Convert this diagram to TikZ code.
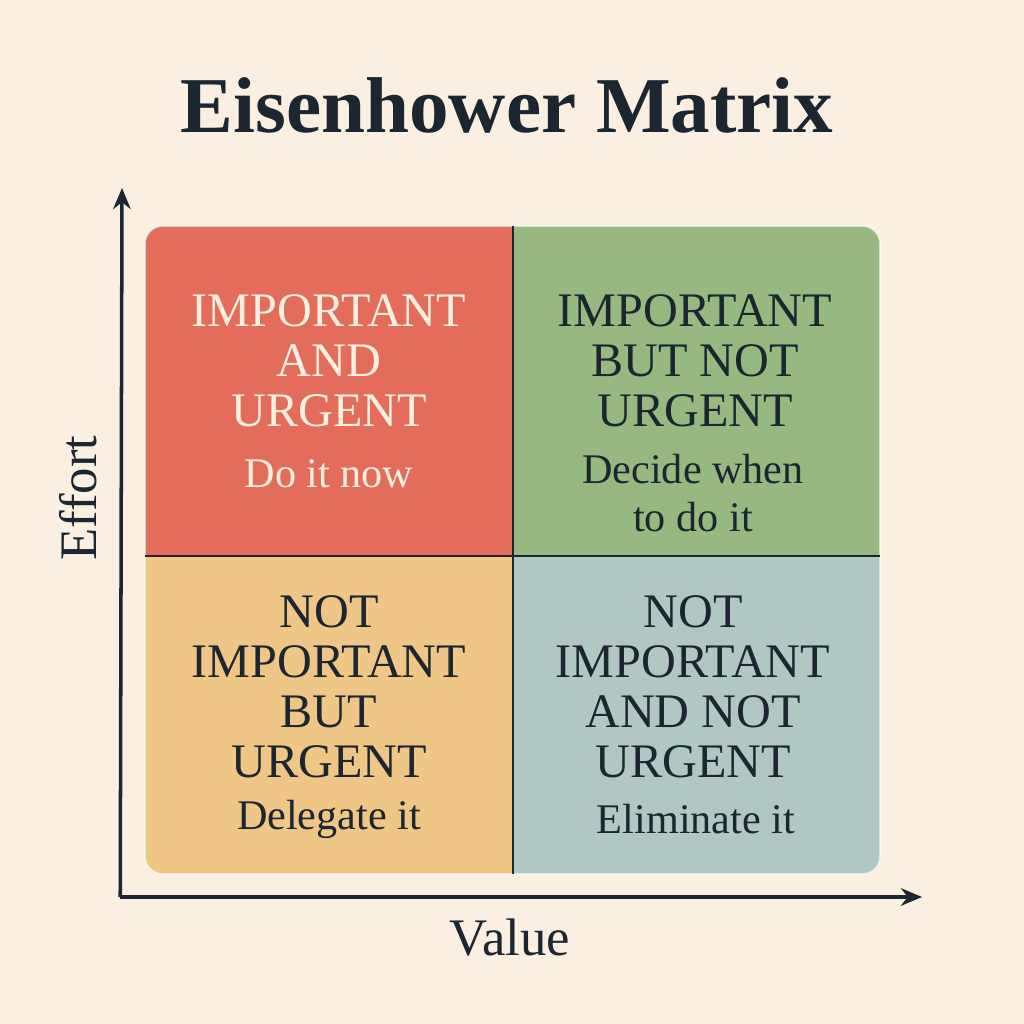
\documentclass[tikz,border=0pt]{standalone}
\usepackage{fontspec}
\setmainfont{Liberation Serif}
\usepackage{tikz}
\usetikzlibrary{arrows.meta, positioning}

\definecolor{paper}{HTML}{FBEFE2}
\definecolor{ink}{HTML}{1C2630}
\definecolor{qred}{HTML}{E36C5B}
\definecolor{qgreen}{HTML}{98B882}
\definecolor{qyellow}{HTML}{F0C686}
\definecolor{qblue}{HTML}{B0C7C4}

\begin{document}
\begin{tikzpicture}[x=0.01cm, y=-0.01cm, >={Stealth[length=6pt, width=5pt]},
    head/.style={align=center, text=ink, font=\fontsize{13.7}{14.2}\selectfont},
    act/.style={align=center, text=ink, font=\fontsize{12}{13.4}\selectfont},
    axislabel/.style={text=ink, font=\fontsize{15}{16}\selectfont}]
                % page
                \fill[paper] (0,0) rectangle (1024,1024);
                \useasboundingbox (0,0) rectangle (1024,1024);
                \node[text=ink, font=\fontsize{22.5}{24}\selectfont\bfseries] (title) at (507,105) {Eisenhower Matrix};
                % quadrants
                \begin{scope}
                    \clip[rounded corners=5pt] (145,226) rectangle (880,874);
                    \fill[qred] (145,226) rectangle (513,556);
                    \fill[qgreen] (513,226) rectangle (880,556);
                    \fill[qyellow] (145,556) rectangle (513,874);
                    \fill[qblue] (513,556) rectangle (880,874);
                \end{scope}
                \draw[white, opacity=0.6, line width=0.5pt, rounded corners=5pt] (145,226) rectangle (880,874);
                \draw[ink, line width=0.5pt] (513,226) -- (513,874);
                \draw[ink, line width=0.5pt] (145,556) -- (880,556);
                % texts
                \node[head, text=paper] (doHead) at (329,361) {IMPORTANT\\AND\\URGENT};
                \node[act, text=paper] (doAct) at (329,474) {Do it now};
                \node[head] (planHead) at (695,361) {IMPORTANT\\BUT NOT\\URGENT};
                \node[act] (planAct) at (693,493) {Decide when\\to do it};
                \node[head] (delHead) at (329,687) {NOT\\IMPORTANT\\BUT\\URGENT};
                \node[act] (delAct) at (329,819) {Delegate it};
                \node[head] (elimHead) at (693,687) {NOT\\IMPORTANT\\AND NOT\\URGENT};
                \node[act] (elimAct) at (696,819) {Eliminate it};
                % axes
                \coordinate (origin) at (122,897);
                \coordinate (yEnd) at (122,188);
                \coordinate (xEnd) at (922,897);
                \draw[ink, line width=1pt, ->] ([xshift=-0.5pt]origin) -- (yEnd);
                \draw[ink, line width=1pt, ->] ([xshift=-0.5pt]origin) -- (xEnd);
                \node[axislabel, rotate=90] (effort) at (78,498) {Effort};
                \node[axislabel] (value) at (510,938) {Value};
            \end{tikzpicture}
\end{document}
